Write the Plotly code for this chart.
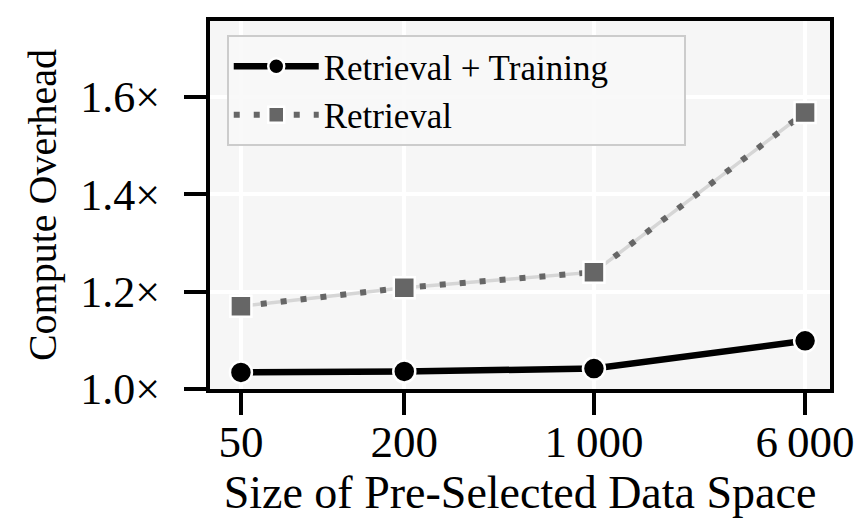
import plotly.graph_objects as go

sizes = [50, 200, 1000, 6000]
x_tick_text = ["50", "200", "1\u2009000", "6\u2009000"]
retrieval_training = [1.034, 1.036, 1.042, 1.099]
retrieval = [1.170, 1.208, 1.240, 1.568]
y_ticks = [1.0, 1.2, 1.4, 1.6]
y_tick_text = ["1.0×", "1.2×", "1.4×", "1.6×"]
series_names = ["Retrieval + Training", "Retrieval"]

FONT = "Liberation Serif"
PAD = "\u00a0" * 8

fig = go.Figure()

# light gray backing line under the dotted series
fig.add_trace(go.Scatter(
    x=sizes, y=retrieval, mode="lines",
    line=dict(color="#d6d6d6", width=3.5),
    showlegend=False, hoverinfo="skip",
))
fig.add_trace(go.Scatter(
    x=sizes, y=retrieval_training, mode="lines+markers",
    name=series_names[0] + PAD,
    line=dict(color="black", width=6.5),
    marker=dict(symbol="circle", size=22, color="black",
                line=dict(color="white", width=2.5)),
))
fig.add_trace(go.Scatter(
    x=sizes, y=retrieval, mode="lines+markers",
    name=series_names[1],
    line=dict(color="#666666", width=6, dash="6px,14px"),
    marker=dict(symbol="square", size=21, color="#666666",
                line=dict(color="white", width=2.5)),
))

fig.update_layout(
    width=864, height=528,
    margin=dict(l=210, r=34, t=21, b=139),
    paper_bgcolor="white",
    plot_bgcolor="#f6f6f6",
    font=dict(family=FONT, color="black", size=44),
    legend=dict(
        x=0.027, y=0.962, xanchor="left", yanchor="top",
        bgcolor="rgba(248,248,248,0.9)",
        bordercolor="#cccccc", borderwidth=2,
        font=dict(family=FONT, size=35),
        itemwidth=85,
    ),
)

fig.update_xaxes(
    type="log",
    range=[1.585, 3.870],
    tickvals=sizes, ticktext=x_tick_text,
    showgrid=True, gridcolor="white", gridwidth=3.5,
    showline=True, linecolor="black", linewidth=4, mirror=True,
    ticks="outside", ticklen=22, tickwidth=4, tickcolor="black",
    tickfont=dict(size=45), ticklabelstandoff=-12,
    title=dict(text="Size of Pre-Selected Data Space", font=dict(size=46), standoff=6),
    zeroline=False, automargin=False,
)
fig.update_yaxes(
    range=[1.0, 1.756],
    tickvals=y_ticks, ticktext=y_tick_text,
    showgrid=True, gridcolor="white", gridwidth=3.5,
    showline=True, linecolor="black", linewidth=4, mirror=True,
    ticks="outside", ticklen=22, tickwidth=4, tickcolor="black",
    tickfont=dict(size=44), ticklabelstandoff=15,
    title=dict(text="Compute Overhead", font=dict(size=40), standoff=12),
    zeroline=False, automargin=False,
)

fig.write_html("out.html")
